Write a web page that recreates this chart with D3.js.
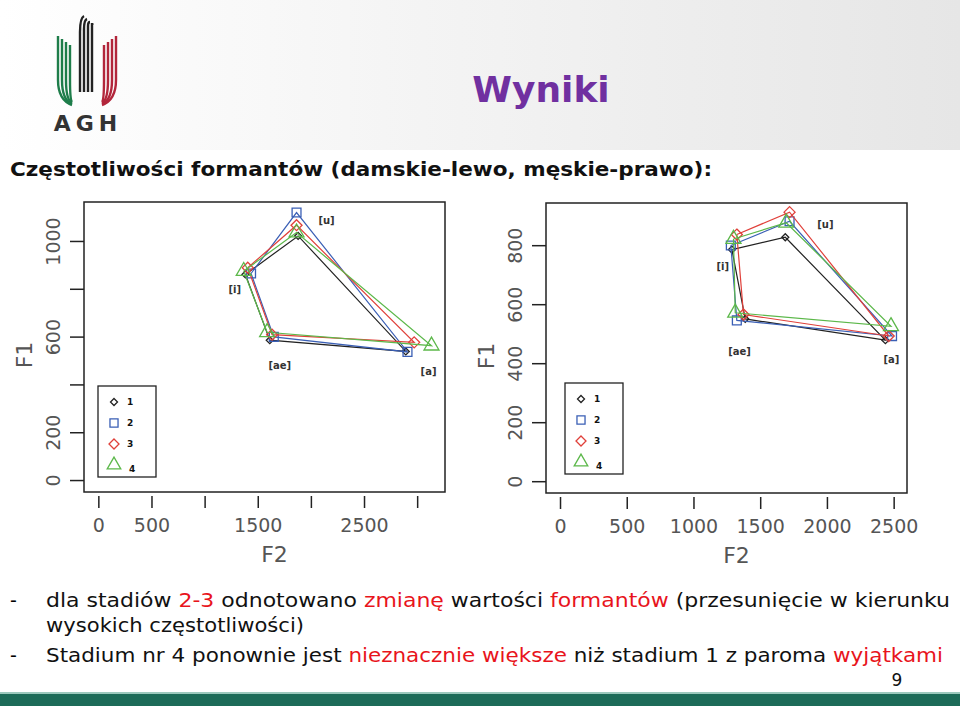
<!DOCTYPE html>
<html>
<head>
<meta charset="utf-8">
<script src="https://cdn.jsdelivr.net/npm/d3@7"></script>
<style>
  body { margin: 0; background: #fff; }
  svg text { font-family: "DejaVu Sans", Verdana, sans-serif; }
</style>
</head>
<body>
<svg id="slide" width="960" height="706"></svg>
<script>
// vowel order around the polygon
const vowels = ["i", "u", "a", "ae"];
const stages = ["1", "2", "3", "4"];
const stageColors = ["#222222", "#3a5fb5", "#e0403a", "#5cb84a"];
const stageShapes = ["diamond", "square", "diamond", "triangle"];

// female (left) F2 / F1 per stage, order: i, u, a, ae
const femaleF2 = [[1384, 1880, 2893, 1613], [1437, 1865, 2909, 1651], [1406, 1865, 2972, 1635], [1368, 1865, 3135, 1588]];
const femaleF1 = [[860, 1021, 538, 585], [864, 1119, 536, 599], [888, 1066, 576, 608], [874, 1035, 562, 618]];
// male (right)
const maleF2 = [[1288, 1688, 2438, 1388], [1280, 1720, 2488, 1325], [1325, 1720, 2463, 1375], [1300, 1695, 2480, 1313]];
const maleF1 = [[785, 827, 478, 550], [799, 881, 492, 545], [836, 912, 492, 565], [821, 876, 525, 571]];

const vowelLabels = ["[i]", "[u]", "[a]", "[ae]"];
const femaleLabelF2 = [1283, 2147, 3107, 1708];
const femaleLabelF1 = [783, 1070, 441, 466];
const maleLabelF2 = [1220, 1988, 2483, 1345];
const maleLabelF1 = [715, 859, 401, 427];

const svg = d3.select("#slide");

function marker(sel, shape, r) {
  if (shape === "diamond") {
    sel.attr("d", `M0,${-r} L${r},0 L0,${r} L${-r},0 Z`);
  } else if (shape === "square") {
    sel.attr("d", d3.symbol().type(d3.symbolSquare).size(r * r * 2.6));
  } else {
    sel.attr("d", d3.symbol().type(d3.symbolTriangle).size(r * r * 3.2));
  }
  return sel;
}

// header band
const grad = svg.append("defs").append("linearGradient").attr("id", "hdr");
grad.append("stop").attr("offset", "0").attr("stop-color", "#ffffff");
grad.append("stop").attr("offset", "1").attr("stop-color", "#e6e6e6");
svg.append("rect").attr("x", 0).attr("y", 0).attr("width", 960).attr("height", 150).attr("fill", "url(#hdr)");

// logo
const logo = svg.append("g");
[[58, "#1e7d4a"], [100, "#b2263b"]].forEach(([x0, c]) => {
  for (let k = 0; k < 4; k++) {
    logo.append("path")
      .attr("d", x0 < 80
        ? `M${x0 + k * 4},${36 + k * 3} V${80} Q${x0 + k * 4},${100} ${x0 + 14},${105 - k}`
        : `M${x0 + 16 - k * 4},${36 + k * 3} V${80} Q${x0 + 16 - k * 4},${100} ${x0 + 2},${105 - k}`)
      .attr("fill", "none").attr("stroke", c).attr("stroke-width", 2.4);
  }
});
for (let k = 0; k < 4; k++) {
  logo.append("path")
    .attr("d", `M${80 + k * 4},92 V${32 - k * 3} Q${80 + k * 4},${18 + k * 2} ${84 + k * 3},${16 + k * 3}`)
    .attr("fill", "none").attr("stroke", "#222").attr("stroke-width", 2.4);
}
logo.append("text").attr("x", 88).attr("y", 131).attr("text-anchor", "middle")
  .attr("font-size", 22).attr("font-weight", "bold").attr("letter-spacing", 5).attr("fill", "#333").text("AGH");

svg.append("text").attr("x", 541).attr("y", 102).attr("text-anchor", "middle")
  .attr("font-size", 36).attr("font-weight", "bold").attr("fill", "#7030a0").text("Wyniki");

svg.append("text").attr("x", 10).attr("y", 176).attr("font-size", 19).attr("font-weight", "bold")
  .attr("textLength", 702).attr("lengthAdjust", "spacingAndGlyphs")
  .attr("fill", "#111").text("Częstotliwości formantów (damskie-lewo, męskie-prawo):");

function drawPanel(cfg) {
  const x = d3.scaleLinear().domain(cfg.xDom).range([cfg.left, cfg.right]);
  const y = d3.scaleLinear().domain(cfg.yDom).range([cfg.bottom, cfg.top]);
  const g = svg.append("g");
  g.append("rect").attr("x", cfg.left).attr("y", cfg.top)
    .attr("width", cfg.right - cfg.left).attr("height", cfg.bottom - cfg.top)
    .attr("fill", "none").attr("stroke", "#222").attr("stroke-width", 1.5);

  const xAxis = g.append("g").attr("transform", `translate(0,${cfg.bottom})`)
    .call(d3.axisBottom(x).tickValues(cfg.xTicks).tickSize(12)
      .tickFormat(d => cfg.xLabels.includes(d) ? d : ""));
  xAxis.select(".domain").remove();
  xAxis.selectAll("line").attr("stroke", "#222").attr("stroke-width", 1.5).attr("y1", 4).attr("y2", 16);
  xAxis.selectAll("text").attr("y", 27).attr("font-size", 19).attr("fill", "#555")
    .attr("font-family", "Liberation Sans, Arial, sans-serif");

  const yAxis = g.append("g").attr("transform", `translate(${cfg.left},0)`)
    .call(d3.axisLeft(y).tickValues(cfg.yTicks).tickSize(12)
      .tickFormat(d => cfg.yLabels.includes(d) ? d : ""));
  yAxis.select(".domain").remove();
  yAxis.selectAll("line").attr("stroke", "#222").attr("stroke-width", 1.5).attr("x2", -14);
  yAxis.selectAll("text").attr("x", 0).attr("y", 0).attr("dy", 0)
    .attr("transform", "translate(-24,0) rotate(-90)").attr("text-anchor", "middle")
    .attr("font-size", 19).attr("fill", "#555").attr("font-family", "Liberation Sans, Arial, sans-serif");

  g.append("text").attr("x", (cfg.left + cfg.right) / 2 + 10).attr("y", cfg.bottom + 70)
    .attr("text-anchor", "middle").attr("font-size", 22).attr("fill", "#555")
    .attr("font-family", "Liberation Sans, Arial, sans-serif").text("F2");
  g.append("text").attr("transform", `translate(${cfg.left - 52},${(cfg.top + cfg.bottom) / 2 + 8}) rotate(-90)`)
    .attr("text-anchor", "middle").attr("font-size", 22).attr("fill", "#555")
    .attr("font-family", "Liberation Sans, Arial, sans-serif").text("F1");

  stages.forEach((s, si) => {
    const pts = vowels.map((v, vi) => [x(cfg.f2[si][vi]), y(cfg.f1[si][vi])]);
    g.append("path").attr("d", d3.line()(pts.concat([pts[0]])))
      .attr("fill", "none").attr("stroke", stageColors[si]).attr("stroke-width", 1.2);
    g.selectAll(null).data(pts).enter().append("path")
      .attr("transform", d => `translate(${d[0]},${d[1]})`)
      .call(marker, stageShapes[si], si === 0 ? 3.5 : 5.5)
      .attr("fill", "none").attr("stroke", stageColors[si]).attr("stroke-width", 1.3);
  });

  vowelLabels.forEach((t, i) => {
    g.append("text").attr("x", x(cfg.lf2[i])).attr("y", y(cfg.lf1[i]))
      .attr("text-anchor", "middle").attr("font-size", 10).attr("font-weight", "bold")
      .attr("fill", "#333").text(t);
  });

  // legend
  const lg = g.append("g").attr("transform", `translate(${cfg.legend[0]},${cfg.legend[1]})`);
  lg.append("rect").attr("width", 58).attr("height", 91).attr("fill", "#fff")
    .attr("stroke", "#222").attr("stroke-width", 1.3);
  stages.forEach((s, si) => {
    lg.append("path").attr("transform", `translate(16,${16 + si * 21})`)
      .call(marker, stageShapes[si], si === 0 ? 3.5 : 5)
      .attr("fill", "none").attr("stroke", stageColors[si]).attr("stroke-width", 1.3);
    lg.append("text").attr("x", si === 3 ? 31 : 29).attr("y", 19 + si * 21 + (si === 3 ? 4 : 0))
      .attr("font-size", 9).attr("font-weight", "bold").attr("fill", "#111").text(s);
  });
}

drawPanel({
  left: 84, right: 445, top: 202, bottom: 492,
  xDom: [-135, 3262], yDom: [-50, 1163],
  xTicks: [0, 500, 1000, 1500, 2000, 2500, 3000], xLabels: [0, 500, 1500, 2500],
  yTicks: [0, 200, 400, 600, 800, 1000], yLabels: [0, 200, 600, 1000],
  f2: femaleF2, f1: femaleF1, lf2: femaleLabelF2, lf1: femaleLabelF1,
  legend: [98, 386]
});
drawPanel({
  left: 546, right: 907, top: 203, bottom: 493,
  xDom: [-105, 2600], yDom: [-40, 943],
  xTicks: [0, 500, 1000, 1500, 2000, 2500], xLabels: [0, 500, 1000, 1500, 2000, 2500],
  yTicks: [0, 200, 400, 600, 800], yLabels: [0, 200, 400, 600, 800],
  f2: maleF2, f1: maleF1, lf2: maleLabelF2, lf1: maleLabelF1,
  legend: [565, 383]
});

// bullets
const red = "#e8141c";
const bullets = [
  { y: 607, len: 904, parts: [["dla stadiów ", "#111"], ["2-3", red], [" odnotowano ", "#111"], ["zmianę", red],
    [" wartości ", "#111"], ["formantów", red], [" (przesunięcie w kierunku", "#111"]], dash: true },
  { y: 632, len: 258, parts: [["wysokich częstotliwości)", "#111"]], dash: false },
  { y: 662, len: 897, parts: [["Stadium nr 4 ponownie jest ", "#111"], ["nieznacznie większe", red],
    [" niż stadium 1 z paroma ", "#111"], ["wyjątkami", red]], dash: true }
];
bullets.forEach(b => {
  if (b.dash) svg.append("text").attr("x", 10).attr("y", b.y).attr("font-size", 19)
    .attr("font-family", "DejaVu Sans Condensed, sans-serif").text("-");
  const t = svg.append("text").attr("x", 46).attr("y", b.y).attr("font-size", 20)
    .attr("font-family", "DejaVu Sans Condensed, Liberation Sans Narrow, sans-serif")
    .attr("textLength", b.len).attr("lengthAdjust", "spacingAndGlyphs")
    .style("white-space", "pre");
  b.parts.forEach(p => t.append("tspan").attr("fill", p[1]).text(p[0]));
});
svg.append("text").attr("x", 897).attr("y", 686).attr("text-anchor", "middle").attr("font-size", 17)
  .attr("font-family", "DejaVu Sans Condensed, sans-serif").attr("fill", "#111").text("9");

svg.append("rect").attr("x", 0).attr("y", 694).attr("width", 960).attr("height", 12).attr("fill", "#1d6b58");
svg.append("rect").attr("x", 0).attr("y", 692).attr("width", 960).attr("height", 2).attr("fill", "#9cc9bd");
</script>
</body>
</html>
